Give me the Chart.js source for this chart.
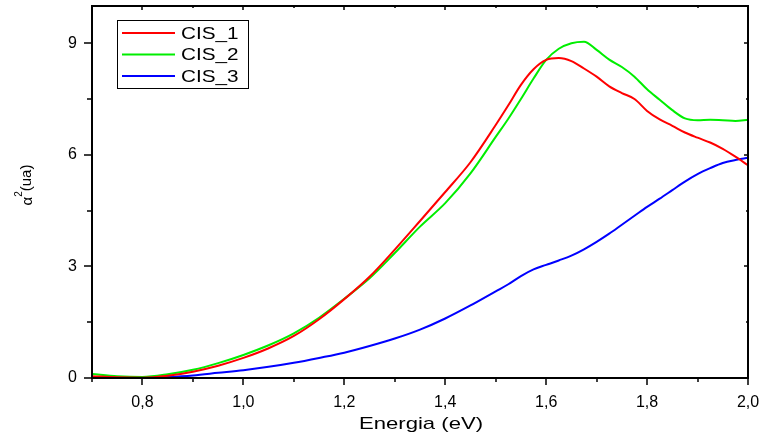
<!DOCTYPE html>
<html>
<head>
<meta charset="utf-8">
<script src="https://cdn.jsdelivr.net/npm/chart.js@4.4.0/dist/chart.umd.min.js"></script>
<style>
    html, body { margin: 0; padding: 0; background: #fff; }
    canvas { display: block; }
</style>
</head>
<body>
<canvas id="chart" width="763" height="436"></canvas>
<script>
// values
const energy = [0.70, 0.75, 0.80, 0.85, 0.90, 0.95, 1.00, 1.05, 1.10, 1.15, 1.20, 1.25, 1.30, 1.35,
    1.40, 1.45, 1.50, 1.525, 1.55, 1.575, 1.60, 1.625, 1.65, 1.675, 1.70, 1.725, 1.75, 1.775,
    1.80, 1.825, 1.85, 1.875, 1.90, 1.925, 1.95, 1.975, 2.00];
const cis1 = [0.05, 0.02, 0.01, 0.06, 0.17, 0.33, 0.54, 0.80, 1.13, 1.58, 2.12, 2.72, 3.45, 4.22,
    5.00, 5.80, 6.80, 7.33, 7.88, 8.30, 8.55, 8.60, 8.52, 8.32, 8.10, 7.84, 7.66, 7.50,
    7.18, 6.95, 6.78, 6.60, 6.46, 6.33, 6.16, 5.95, 5.72];
const cis2 = [0.11, 0.05, 0.03, 0.10, 0.22, 0.40, 0.62, 0.88, 1.20, 1.62, 2.13, 2.68, 3.36, 4.07,
    4.70, 5.50, 6.48, 6.97, 7.50, 8.05, 8.55, 8.85, 9.00, 9.04, 8.82, 8.56, 8.36, 8.10,
    7.76, 7.48, 7.20, 6.98, 6.93, 6.94, 6.93, 6.91, 6.94];
const cis3 = [0.02, 0.01, 0.01, 0.03, 0.07, 0.14, 0.21, 0.30, 0.41, 0.54, 0.68, 0.86, 1.06, 1.30,
    1.60, 1.95, 2.33, 2.52, 2.74, 2.92, 3.04, 3.16, 3.29, 3.46, 3.66, 3.88, 4.12, 4.36,
    4.60, 4.82, 5.05, 5.28, 5.48, 5.64, 5.78, 5.86, 5.92];

const seriesNames = ['CIS_1', 'CIS_2', 'CIS_3'];
const seriesColors = ['#ff0000', '#00ee00', '#0000ff'];

const xMajor = [0.8, 1.0, 1.2, 1.4, 1.6, 1.8, 2.0];
const xMinor = [0.7, 0.9, 1.1, 1.3, 1.5, 1.7, 1.9];
const yMajor = [0, 3, 6, 9];
const yMinor = [1.5, 4.5, 7.5];

const FONT = "'Liberation Sans', Arial, sans-serif";

function toPoints(xs, ys) {
    return xs.map((x, i) => ({ x: x, y: ys[i] }));
}

// no extra room for edge labels, the layout padding decides the plot box
function noPadding(s) {
    s.paddingTop = 0;
    s.paddingBottom = 0;
    s.paddingLeft = 0;
    s.paddingRight = 0;
}

// frame, ticks on all four sides
const framePlugin = {
    id: 'frame',
    afterDraw(chart) {
        const ctx = chart.ctx;
        const a = chart.chartArea;
        const xs = chart.scales.x, ys = chart.scales.y;
        ctx.save();
        ctx.strokeStyle = '#000';
        ctx.lineWidth = 2;
        ctx.strokeRect(a.left, a.top, a.right - a.left, a.bottom - a.top);
        ctx.lineWidth = 1.5;
        ctx.beginPath();
        const tick = (x1, y1, x2, y2) => { ctx.moveTo(x1, y1); ctx.lineTo(x2, y2); };
        xMajor.forEach(v => {
            const px = Math.round(xs.getPixelForValue(v));
            tick(px, a.bottom, px, a.bottom + 7);
            tick(px, a.top, px, a.top + 4);
        });
        xMinor.forEach(v => {
            const px = Math.round(xs.getPixelForValue(v));
            tick(px, a.bottom, px, a.bottom + 4);
            tick(px, a.top, px, a.top + 2);
        });
        yMajor.forEach(v => {
            const py = Math.round(ys.getPixelForValue(v));
            tick(a.left - 8, py, a.left, py);
            tick(a.right - 4, py, a.right, py);
        });
        yMinor.forEach(v => {
            const py = Math.round(ys.getPixelForValue(v));
            tick(a.left - 5, py, a.left, py);
            tick(a.right - 2, py, a.right, py);
        });
        ctx.stroke();
        ctx.restore();
    }
};

// axis titles (text is a bit wide in the original)
const titlePlugin = {
    id: 'titles',
    afterDraw(chart) {
        const ctx = chart.ctx;
        const a = chart.chartArea;
        ctx.save();
        ctx.fillStyle = '#000';
        ctx.textBaseline = 'middle';

        // x title
        ctx.font = '17px ' + FONT;
        ctx.textAlign = 'center';
        ctx.save();
        ctx.translate((a.left + a.right) / 2 + 1, 424);
        ctx.scale(1.3, 1);
        ctx.fillText('Energia (eV)', 0, 0);
        ctx.restore();

        // y title: alpha squared (ua), rotated
        ctx.save();
        ctx.translate(27, 185);
        ctx.rotate(-Math.PI / 2);
        ctx.textAlign = 'left';
        ctx.font = '15px ' + FONT;
        const wa = ctx.measureText('α').width;
        ctx.font = '10px ' + FONT;
        const w2 = ctx.measureText('2').width;
        ctx.font = '15px ' + FONT;
        const wr = ctx.measureText('(ua)').width;
        let x = -(wa + w2 + wr) / 2;
        ctx.fillText('α', x, 1);
        x += wa;
        ctx.font = '10px ' + FONT;
        ctx.fillText('2', x, -8);
        x += w2;
        ctx.font = '15px ' + FONT;
        ctx.fillText('(ua)', x, 0);
        ctx.restore();

        ctx.restore();
    }
};

// legend box inside the plot, top left
const legendPlugin = {
    id: 'legendBox',
    afterDraw(chart) {
        const ctx = chart.ctx;
        const a = chart.chartArea;
        const left = a.left + 25, top = a.top + 14;
        ctx.save();
        ctx.strokeStyle = '#000';
        ctx.lineWidth = 1;
        ctx.strokeRect(left + 0.5, top + 0.5, 131, 68);
        chart.data.datasets.forEach((ds, i) => {
            const y = top + 13 + i * 21.5;
            ctx.strokeStyle = ds.borderColor;
            ctx.lineWidth = 2;
            ctx.beginPath();
            ctx.moveTo(left + 5, y);
            ctx.lineTo(left + 58, y);
            ctx.stroke();
            ctx.fillStyle = '#000';
            ctx.font = '17px ' + FONT;
            ctx.textAlign = 'left';
            ctx.textBaseline = 'middle';
            ctx.save();
            ctx.translate(left + 64, y + 1);
            ctx.scale(1.22, 1);
            ctx.fillText(ds.label, 0, 0);
            ctx.restore();
        });
        ctx.restore();
    }
};

const datasets = [cis1, cis2, cis3].map((vals, i) => ({
    label: seriesNames[i],
    data: toPoints(energy, vals),
    borderColor: seriesColors[i],
    borderWidth: 2,
    pointRadius: 0,
    fill: false,
    cubicInterpolationMode: 'monotone'
}));

new Chart(document.getElementById('chart'), {
    type: 'line',
    data: { datasets },
    plugins: [framePlugin, titlePlugin, legendPlugin],
    options: {
        responsive: false,
        animation: false,
        layout: { padding: { top: 6, right: 15, left: 0, bottom: 0 } },
        plugins: {
            legend: { display: false },
            tooltip: { enabled: false }
        },
        scales: {
            x: {
                type: 'linear',
                min: 0.7,
                max: 2.0,
                afterBuildTicks: s => { s.ticks = xMajor.map(v => ({ value: v })); },
                afterFit: s => { s.height = 58; noPadding(s); },
                grid: { display: false },
                border: { display: false },
                ticks: {
                    autoSkip: false,
                    maxRotation: 0,
                    padding: 7,
                    color: '#000',
                    font: { family: FONT, size: 16 },
                    callback: v => Number(v).toFixed(1).replace('.', ',')
                }
            },
            y: {
                min: 0,
                max: 10,
                afterBuildTicks: s => { s.ticks = yMajor.map(v => ({ value: v })); },
                afterFit: s => { s.width = 92; noPadding(s); },
                grid: { display: false },
                border: { display: false },
                ticks: {
                    padding: 7,
                    color: '#000',
                    font: { family: FONT, size: 16 },
                    callback: v => String(v)
                }
            }
        }
    }
});
</script>
</body>
</html>
